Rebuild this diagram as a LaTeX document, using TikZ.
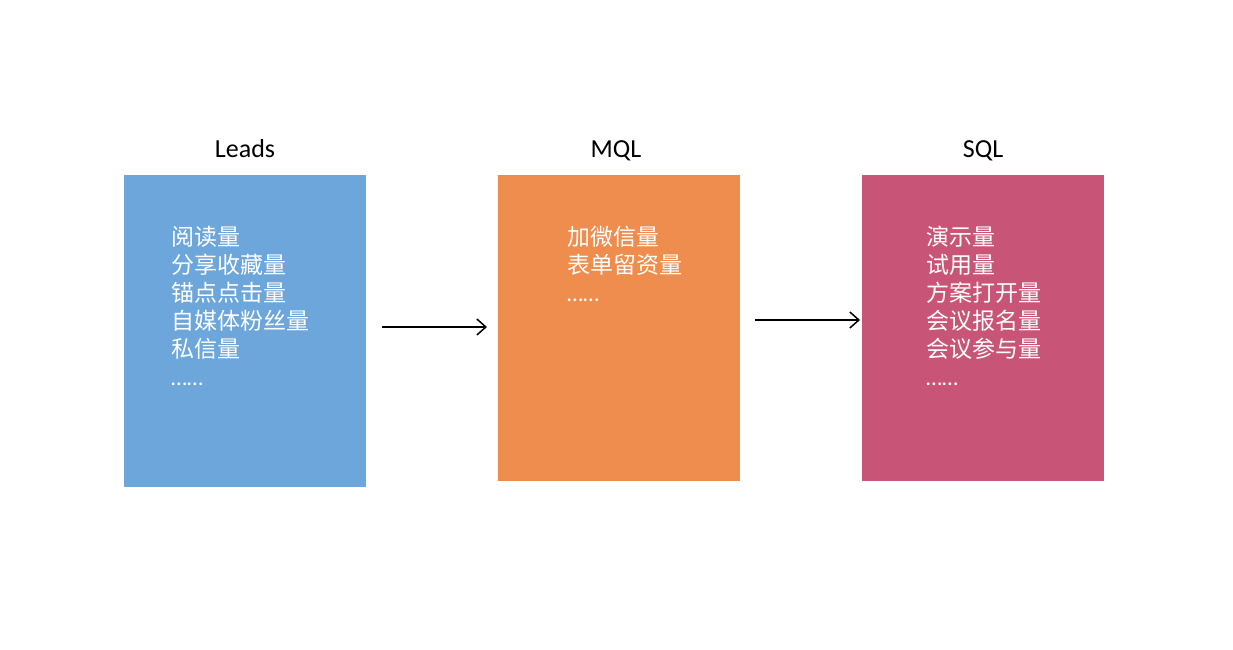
\documentclass[tikz,border=0pt]{standalone}
\usepackage{fontspec}
\setmainfont{Carlito}
\newfontfamily\cjk{Noto Sans CJK SC}
\usetikzlibrary{arrows.meta}
\definecolor{leadsblue}{HTML}{6CA6DA}
\definecolor{mqlorange}{HTML}{EE8D4D}
\definecolor{sqlpink}{HTML}{C85577}
\tikzset{
  stage/.style={draw=none, minimum width=242pt, inner sep=0pt, outer sep=0pt, anchor=north west},
  title/.style={font=\fontsize{26}{30}\selectfont, anchor=base, inner sep=0pt},
  items/.style={font=\cjk\fontsize{23}{28}\selectfont, text=white, align=left, anchor=north west, inner sep=0pt},
  flow/.style={draw=black, line width=1.5pt, -{Straight Barb[length=9pt, width=16pt, line width=1.5pt]}}
}
\newcommand{\dotsline}{{\fontspec{Carlito}……}}
\begin{document}
\begin{tikzpicture}[x=1pt, y=-1pt]
\useasboundingbox[fill=white] (0,0) rectangle (1233,649);
\node[stage, fill=leadsblue, minimum height=312pt] (leads) at (124,175) {};
\node[stage, fill=mqlorange, minimum height=306pt] (mql) at (498,175) {};
\node[stage, fill=sqlpink, minimum height=306pt] (sql) at (862,175) {};
\node[title] (tleads) at (245,157) {Leads};
\node[title] (tmql) at (616,157) {MQL};
\node[title] (tsql) at (983,157) {SQL};
\node[items] (ileads) at (171,226) {阅读量\\分享收藏量\\锚点点击量\\自媒体粉丝量\\私信量\\\dotsline};
\node[items] (imql) at (567,226) {加微信量\\表单留资量\\\dotsline};
\node[items] (isql) at (926,226) {演示量\\试用量\\方案打开量\\会议报名量\\会议参与量\\\dotsline};
\coordinate (a1s) at (382,327);
\coordinate (a1e) at (487,327);
\coordinate (a2s) at (755,320);
\coordinate (a2e) at (860,320);
\draw[flow] (a1s) -- (a1e);
\draw[flow] (a2s) -- (a2e);
\end{tikzpicture}
\end{document}
